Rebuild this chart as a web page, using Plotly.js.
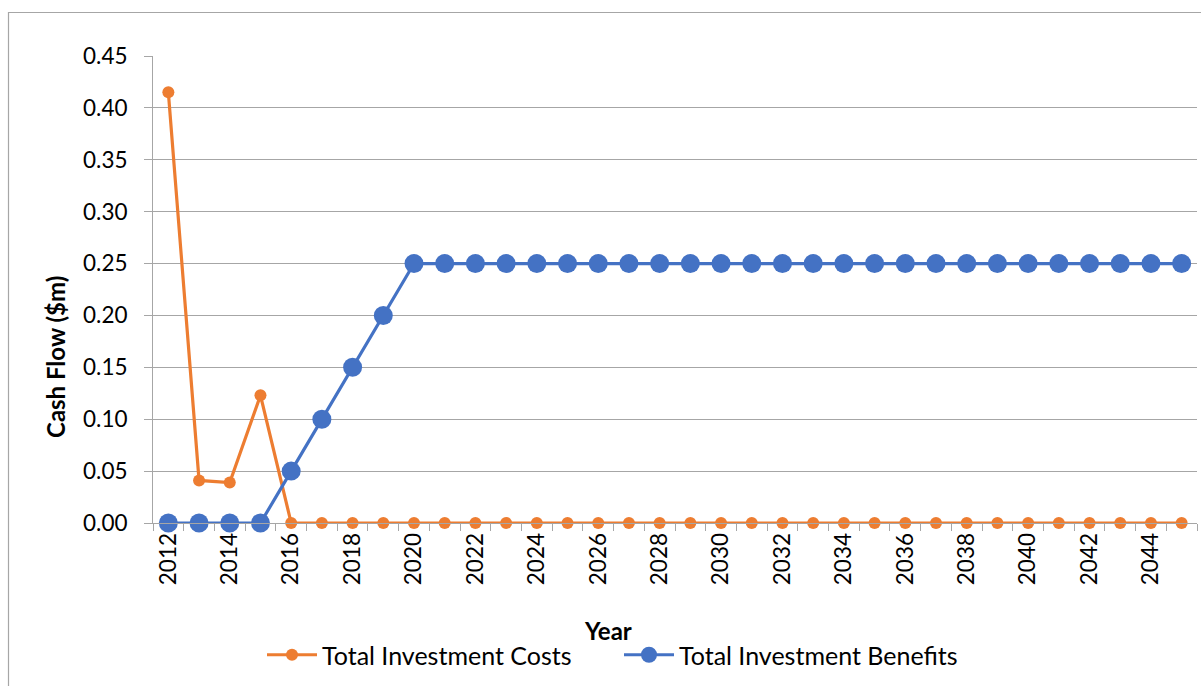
<!DOCTYPE html>
<html>
<head>
<meta charset="utf-8">
<script src="https://cdn.plot.ly/plotly-3.0.1.min.js"></script>
<style>
  html, body { margin: 0; padding: 0; background: #fff; }
  #chart { width: 1201px; height: 686px; }
</style>
</head>
<body>
<div id="chart"></div>
<script>
var years = [2012,2013,2014,2015,2016,2017,2018,2019,2020,2021,2022,2023,2024,2025,2026,2027,2028,2029,2030,2031,2032,2033,2034,2035,2036,2037,2038,2039,2040,2041,2042,2043,2044,2045];
var costs = [0.415,0.041,0.039,0.123,0,0,0,0,0,0,0,0,0,0,0,0,0,0,0,0,0,0,0,0,0,0,0,0,0,0,0,0,0,0];
var benefits = [0,0,0,0,0.05,0.10,0.15,0.20,0.25,0.25,0.25,0.25,0.25,0.25,0.25,0.25,0.25,0.25,0.25,0.25,0.25,0.25,0.25,0.25,0.25,0.25,0.25,0.25,0.25,0.25,0.25,0.25,0.25,0.25];
var costName = "Total Investment Costs";
var benefitName = "Total Investment Benefits";
var xTitle = "Year";
var yTitle = "Cash Flow ($m)";

var FONT = "Lato, 'Open Sans', sans-serif";
var GRID = "#A6A6A6";

var traces = [
  {
    x: years, y: costs, name: costName, type: "scatter", mode: "lines+markers",
    line: {color: "#ED7D31", width: 3.2},
    marker: {color: "#ED7D31", size: 12},
    cliponaxis: false
  },
  {
    x: years, y: benefits, name: benefitName, type: "scatter", mode: "lines+markers",
    line: {color: "#4472C4", width: 3.2},
    marker: {color: "#4472C4", size: 19},
    cliponaxis: false
  }
];

var L = 153, R = 1197, T = 56, B = 523;
function px(x) { return (x - L) / (R - L); }
function py(y) { return (B - y) / (B - T); }

var layout = {
  width: 1201, height: 686,
  margin: {l: L, r: 1201 - R, t: T, b: 686 - B},
  paper_bgcolor: "#fff", plot_bgcolor: "#fff",
  font: {family: FONT, size: 22, color: "#000"},
  showlegend: true,
  legend: {
    orientation: "h", x: px(262), xanchor: "left", y: py(655), yanchor: "middle",
    font: {family: FONT, size: 25, color: "#000"},
    entrywidth: 292, entrywidthmode: "pixels", itemwidth: 50,
    traceorder: "normal"
  },
  xaxis: {
    type: "linear", range: [2011.5, 2045.5],
    tick0: 2012, dtick: 2, tickangle: -90,
    ticks: "outside", ticklen: 0, tickcolor: GRID,
    showgrid: false, zeroline: false,
    showline: true, linecolor: GRID, linewidth: 1,
    tickfont: {family: FONT, size: 22.5, color: "#000"},
    minor: {ticks: "outside", tick0: 2011.5, dtick: 1, ticklen: 7, tickcolor: GRID, showgrid: false},
    fixedrange: true
  },
  yaxis: {
    range: [0, 0.45], dtick: 0.05, tickformat: ".2f",
    showgrid: true, gridcolor: GRID, gridwidth: 1,
    zeroline: false,
    showline: true, linecolor: GRID, linewidth: 1,
    ticks: "outside", ticklen: 8, tickcolor: GRID,
    ticklabelstandoff: 12,
    tickfont: {family: FONT, size: 22.5, color: "#000"},
    fixedrange: true
  },
  annotations: [
    {text: "<b>" + yTitle + "</b>", xref: "paper", yref: "paper", x: px(55), y: py(357),
     xanchor: "center", yanchor: "middle",
     textangle: -90, showarrow: false, font: {family: FONT, size: 24, color: "#000"}},
    {text: "<b>" + xTitle + "</b>", xref: "paper", yref: "paper", x: px(608), y: py(630),
     xanchor: "center", yanchor: "middle",
     showarrow: false, font: {family: FONT, size: 24, color: "#000"}}
  ],
  shapes: [
    {type: "rect", xref: "paper", yref: "paper",
     x0: px(8.5), x1: px(1210), y0: py(700), y1: py(12.5),
     line: {color: "#A6A6A6", width: 1.2}, fillcolor: "rgba(0,0,0,0)", layer: "below"}
  ]
};

Plotly.newPlot("chart", traces, layout, {displayModeBar: false, staticPlot: true});
</script>
</body>
</html>
